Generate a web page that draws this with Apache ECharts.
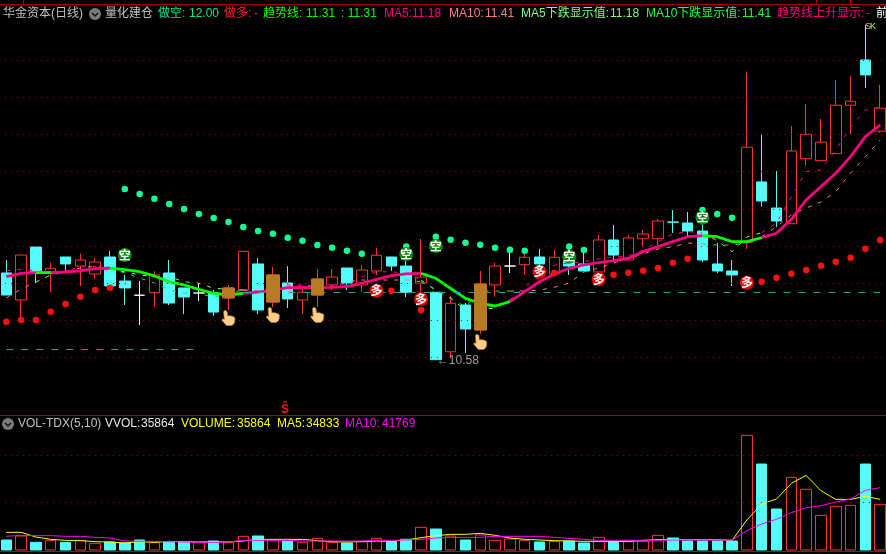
<!DOCTYPE html>
<html><head><meta charset="utf-8">
<style>html,body{margin:0;padding:0;background:#000;overflow:hidden}#c{width:886px;height:554px}</style>
<script src="https://cdn.jsdelivr.net/npm/echarts@6/dist/echarts.min.js"></script>
</head><body><div id="c"></div>
<script>
const openPrices=[11.281,11.063,11.491,11.283,11.41,11.337,11.273,11.41,11.216,11.101,11.122,11.281,11.16,11.119,11.119,11.079,11.143,11.354,11.046,11.2,11.063,11.103,11.184,11.321,11.184,11.297,11.41,11.337,11.198,11.125,10.644,11.022,10.82,11.184,11.337,11.348,11.41,11.275,11.426,11.354,11.289,11.548,11.386,11.558,11.558,11.693,11.685,11.62,11.354,11.297,11.529,12.017,11.806,11.679,12.205,12.189,12.246,12.637,13.003,12.427];
const closePrices=[11.103,11.426,11.281,11.319,11.354,11.386,11.37,11.176,11.16,11.101,11.265,11.038,11.087,11.119,10.965,11.16,11.456,10.982,11.265,11.071,11.125,11.232,11.248,11.2,11.305,11.424,11.337,11.125,11.248,10.58,11.036,10.828,11.192,11.337,11.337,11.408,11.354,11.408,11.337,11.297,11.548,11.426,11.564,11.596,11.701,11.692,11.62,11.386,11.297,11.265,12.297,11.863,11.701,12.267,12.402,12.338,12.637,12.669,12.882,12.613];
const highPrices=[11.386,11.426,11.491,11.364,11.41,11.437,11.405,11.459,11.265,11.216,11.295,11.386,11.16,11.198,11.143,11.184,11.456,11.402,11.329,11.337,11.16,11.313,11.313,11.321,11.346,11.483,11.41,11.426,11.556,11.125,11.095,11.038,11.297,11.362,11.451,11.434,11.475,11.467,11.483,11.451,11.588,11.669,11.588,11.629,11.717,11.79,11.774,11.734,11.523,11.386,12.909,12.405,12.106,12.469,12.647,12.526,12.841,12.874,13.286,12.801];
const lowPrices=[11.103,10.917,11.2,11.127,11.291,11.176,11.232,11.176,11.022,10.86,11.006,11.022,10.949,11.054,10.933,10.982,11.135,10.949,11.006,10.998,10.949,11.006,11.143,11.143,11.127,11.265,11.297,11.087,11.127,10.58,10.594,10.634,10.788,11.089,11.281,11.265,11.305,11.248,11.265,11.297,11.289,11.386,11.386,11.494,11.483,11.604,11.572,11.37,11.281,11.176,11.475,11.817,11.653,11.677,12.148,12.186,12.243,12.405,12.777,12.413];
const trendLine=[11.251,11.278,11.283,11.283,11.289,11.299,11.316,11.321,11.308,11.291,11.257,11.21,11.184,11.149,11.117,11.103,11.117,11.127,11.143,11.162,11.165,11.162,11.165,11.17,11.198,11.23,11.259,11.273,11.278,11.238,11.157,11.076,11.036,11.014,11.049,11.13,11.21,11.273,11.319,11.346,11.364,11.38,11.4,11.453,11.494,11.534,11.574,11.582,11.574,11.534,11.534,11.566,11.602,11.715,11.871,11.979,12.087,12.221,12.383,12.478];
const ma5Line=[11.299,11.311,11.297,11.289,11.289,11.337,11.332,11.299,11.291,11.265,11.251,11.251,11.21,11.198,11.157,11.149,11.143,11.138,11.165,11.184,11.184,11.17,11.184,11.184,11.251,11.291,11.291,11.278,11.224,11.143,11.076,10.982,10.995,10.995,11.063,11.17,11.251,11.346,11.362,11.372,11.394,11.41,11.418,11.467,11.534,11.596,11.615,11.604,11.542,11.453,11.572,11.607,11.685,11.895,12.1,12.114,12.275,12.461,12.599,12.623];
const ma10Line=[11.079,11.151,11.208,11.265,11.289,11.321,11.337,11.313,11.283,11.24,11.2,11.143,11.119,11.119,11.081,11.119,11.143,11.135,11.13,11.13,11.184,11.165,11.165,11.21,11.224,11.224,11.224,11.224,11.21,11.143,11.079,11.008,11.138,11.135,11.135,11.135,11.143,11.165,11.2,11.289,11.321,11.362,11.402,11.434,11.475,11.494,11.523,11.515,11.507,11.507,11.523,11.574,11.655,11.75,11.806,11.855,11.938,12.089,12.221,12.356];
const fallingSegments=[[2,3],[7,16],[28,34],[47,51]];
const _=null;
const shortStops=[_,_,_,_,_,_,_,_,11.96,11.92,11.88,11.839,11.798,11.758,11.725,11.693,11.653,11.62,11.599,11.566,11.542,11.507,11.485,11.461,11.437,_,_,11.494,_,11.574,11.55,11.526,11.51,11.485,11.469,11.461,_,_,11.494,11.467,_,_,_,_,_,_,_,11.79,11.758,11.728,_,_,_,_,_,_,_,_,_,_];
const longStops=[10.887,10.901,10.901,10.968,11.03,11.089,11.143,11.162,_,_,_,_,_,_,_,_,_,_,_,_,_,_,_,_,_,_,11.138,_,10.982,_,_,_,_,_,_,_,_,11.281,_,_,_,11.267,11.283,11.299,11.321,11.364,11.396,_,_,_,_,11.21,11.243,11.275,11.305,11.34,11.372,11.405,11.477,11.548];
const longSignals=[[25,11.138],[28,11.071],[36,11.291],[40,11.232],[50,11.202]];
const shortSignals=[[8,11.426],[27,11.434],[29,11.499],[38,11.413],[47,11.728]];
const handSignals=[[15,10.917],[18,10.941],[21,10.941],[32,10.723]];
const goldCandles=[15,18,21,32];
const whiteDoji=[9,13,34];
const priceGrid=[10.6,10.9,11.2,11.5,11.8,12.1,12.4,12.7,13.0];
const volumes=[50500,70700,38700,48800,38700,48800,33700,40400,35864,50500,37000,40400,40400,37000,45450,37000,69000,70700,48800,45450,37000,59000,37000,35350,42000,59000,42000,54000,114500,106000,70700,50500,75750,48800,55500,48800,40400,43700,45450,35350,64000,43700,48800,43700,74000,60600,45450,45450,45450,45450,579000,434300,207000,367000,306500,175000,220500,225500,434300,230500];
const volumeUp=[0,1,0,1,0,1,1,0,0,0,1,0,0,1,0,1,1,0,1,0,1,1,1,0,1,1,0,0,1,0,1,0,1,1,1,1,0,1,0,0,1,0,1,1,1,0,0,0,0,0,1,0,0,1,1,1,1,1,0,1];
const volMa5=[89200,89200,65600,53900,48800,47100,42100,40400,34833,42100,38700,43800,42100,40400,42100,40400,45400,53900,53900,53900,53900,47100,42100,40400,42100,45400,43800,50500,62300,72400,79100,79100,84200,74100,60600,53900,50500,47100,45400,43800,43800,43800,42100,48800,52200,52200,52200,52200,52200,48800,151500,232300,257500,336600,377000,299600,255800,255800,271000,255800];
const volMa10=[69000,74100,72400,72400,69000,69000,64000,60600,45400,43800,43800,42100,40400,38700,38700,40400,48800,48800,48800,48800,45400,45400,45400,45400,45400,48800,48800,50500,53900,60600,64000,64000,64000,69000,69000,69000,69000,64000,58900,53900,48800,48800,48800,48800,48800,50500,50500,50500,50500,50500,97600,131300,154900,188500,213800,223900,242400,257500,301300,314800];
const volGrid=[240000,480000];
const categories=openPrices.map((v,i)=>String(i));

const RED='#FF3232',CYAN='#54FCFC',GOLD='#B87A22',DOT='#B00000',BORDER='#B00000',TEAL='#3A9A9A';
const isFalling=i=>fallingSegments.some(s=>i>=s[0]&&i<=s[1]);
const falling=a=>a.map((v,i)=>isFalling(i)?v:null);
const rising=a=>a.map((v,i)=>{
  const f=isFalling(i),atEnd=fallingSegments.some(s=>i===s[0]||i===s[1]);
  return (!f||atEnd)?v:null;
});
const candleData=openPrices.map((o,i)=>{
  const item={value:[o,closePrices[i],lowPrices[i],highPrices[i]]};
  if(whiteDoji.includes(i))item.itemStyle={color:'#fff',color0:'#fff',borderColor:'#fff',borderColor0:'#fff'};
  return item;
});
const goldData=openPrices.map((o,i)=>{
  if(!goldCandles.includes(i))return ['-','-','-','-'];
  const lo=Math.min(o,closePrices[i]),hi=Math.max(o,closePrices[i]);
  return [lo,hi,lo,hi];
});
const volBars=volumes.map((v,i)=>volumeUp[i]?[0,v,0,v]:[v,0,0,v]);
const lineS=(name,data,color,width,type,z)=>({name,type:'line',data,xAxisIndex:0,yAxisIndex:0,symbol:'none',silent:true,z,
  lineStyle:{color,width,type},connectNulls:false});
const volLine=(name,data,color)=>({name,type:'line',data,xAxisIndex:1,yAxisIndex:1,symbol:'none',silent:true,z:4,lineStyle:{color,width:1}});
const handPath='path://M4 0 C5.5 0 6.5 1 6.6 2.5 L7 8.5 C9 8 11 8.2 12.5 9 C14.5 9.5 16 10.5 16.3 12.5 L16 18 C15.5 21 14 23 12 24 L6 24 C4.5 22.5 3 20 1 17 C-0.5 15 0 13 2 13.5 L3 14.5 L2.2 2.5 C2.2 1 3 0 4 0 Z';
const signal=(name,data,color,text)=>({name,type:'scatter',data,xAxisIndex:0,yAxisIndex:0,symbol:'circle',symbolSize:14,z:8,silent:true,
  itemStyle:{color,opacity:1},label:{show:true,position:'inside',formatter:text,color:'#fff',fontSize:12,fontWeight:'bold',fontFamily:'Noto Sans CJK SC'}});
const T=(text,x,y,color)=>({type:'text',x,y,silent:true,z:20,style:{text,fill:color,font:'12px "Liberation Sans","Noto Sans CJK SC"',textVerticalAlign:'middle'}});
const R=(x,y,width,height,color)=>({type:'rect',silent:true,z:20,shape:{x,y,width,height},style:{fill:color}});
const Chev=(x,y)=>[{type:'circle',silent:true,z:20,shape:{cx:x,cy:y,r:6},style:{fill:'#7a7a7a'}},
  {type:'polyline',silent:true,z:21,shape:{points:[[x-3,y-1],[x,y+2],[x+3,y-1]]},style:{stroke:'#111',lineWidth:1.5,fill:'none'}}];
const G='#C0C0C0';
const chart=echarts.init(document.getElementById('c'),null,{renderer:'canvas'});
chart.setOption({
  animation:false,backgroundColor:'#000',
  grid:[{left:-1.1,width:888.7,top:23.2,height:383.5,outerBoundsMode:'none'},{left:-1.1,width:888.7,top:415,height:135,outerBoundsMode:'none'}],
  xAxis:[{type:'category',data:categories,gridIndex:0,show:false},{type:'category',data:categories,gridIndex:1,show:false}],
  yAxis:[{type:'value',gridIndex:0,min:10.2,max:13.3,show:false,splitLine:{show:false}},
         {type:'value',gridIndex:1,min:0,max:682000,show:false,splitLine:{show:false}}],
  series:[
    {name:'grid',type:'line',data:[],xAxisIndex:0,yAxisIndex:0,z:1,silent:true,
      markLine:{silent:true,symbol:['none','none'],label:{show:false},animation:false,
        data:priceGrid.map(p=>({yAxis:p,lineStyle:{color:DOT,type:[1,5],width:1}})).concat([
          [{coord:[0,10.666],lineStyle:{color:TEAL,type:[7,8],width:1}},{coord:['13',10.666]}],
          [{coord:[15,11.123],lineStyle:{color:TEAL,type:[7,8],width:1}},{coord:['59',11.123]}]
        ])}},
    {name:'K',type:'candlestick',data:candleData,xAxisIndex:0,yAxisIndex:0,barWidth:11,silent:true,z:2,
      itemStyle:{color:'transparent',color0:CYAN,borderColor:RED,borderColor0:CYAN,borderWidth:1}},
    lineS('MA5up',rising(ma5Line),'#FF0080',1,[4,7],3),
    lineS('MA10up',rising(ma10Line),'#FF8080',1,[4,7],3),
    lineS('MA5down',falling(ma5Line),'#80FF80',1,[4,7],3),
    lineS('MA10down',falling(ma10Line),'#20E040',1,[4,7],3),
    lineS('trendUp',rising(trendLine),'#FF0080',2.8,'solid',4),
    lineS('trendDown',falling(trendLine),'#00FF00',2.8,'solid',4),
    {name:'gold',type:'candlestick',data:goldData,xAxisIndex:0,yAxisIndex:0,barWidth:13,silent:true,z:5,
      itemStyle:{color:GOLD,color0:GOLD,borderColor:GOLD,borderColor0:GOLD,borderWidth:1}},
    {name:'shortStops',type:'scatter',data:shortStops,xAxisIndex:0,yAxisIndex:0,symbol:'circle',symbolSize:6.5,z:6,silent:true,itemStyle:{color:'#10FF90',opacity:1}},
    {name:'longStops',type:'scatter',data:longStops,xAxisIndex:0,yAxisIndex:0,symbol:'circle',symbolSize:6.5,z:6,silent:true,itemStyle:{color:'#FF1010',opacity:1}},
    signal('long',longSignals,'#F00000','多'),
    signal('short',shortSignals,'#058A10','空'),
    {name:'hands',type:'scatter',data:handSignals,xAxisIndex:0,yAxisIndex:0,symbol:handPath,symbolSize:[13,15],z:7,silent:true,
      itemStyle:{color:'#FFCF8A',borderColor:'#B87A22',borderWidth:0.7,opacity:1}},
    {name:'low',type:'scatter',data:[[29,10.58]],xAxisIndex:0,yAxisIndex:0,symbolSize:0,z:9,silent:true,
      label:{show:true,position:'bottom',distance:-5,offset:[22,0],formatter:'←10.58',color:G,fontSize:12,fontFamily:'Liberation Sans'}},
    {name:'volgrid',type:'line',data:[],xAxisIndex:1,yAxisIndex:1,z:1,silent:true,
      markLine:{silent:true,symbol:['none','none'],label:{show:false},animation:false,
        data:volGrid.map(v=>({yAxis:v,lineStyle:{color:DOT,type:[1,5],width:1}}))}},
    {name:'VOL',type:'candlestick',data:volBars,xAxisIndex:1,yAxisIndex:1,barWidth:11,silent:true,z:2,
      itemStyle:{color:'transparent',color0:CYAN,borderColor:RED,borderColor0:CYAN,borderWidth:1}},
    volLine('VMA5',volMa5,'#FFFF00'),
    volLine('VMA10',volMa10,'#FF00FF')
  ],
  graphic:{elements:[
    R(0,4,886,1,BORDER),R(23,0,1,4,BORDER),R(816,0,1,4,BORDER),R(850,0,1,4,BORDER),
    R(0,415,886,1,BORDER),R(0,551,886,1,BORDER),
    T('华金资本(日线)',3,14,G),...Chev(95,14),T('量化建仓',105,14,G),
    T('做空:',158,14,'#00E68A'),T('12.00',189,14,'#00E68A'),
    T('做多:',224,14,'#FF2020'),T('-',254,14,'#FF2020'),
    T('趋势线:',263,14,'#00FF00'),T('11.31',306,14,'#00FF00'),T(': 11.31',341,14,'#00FF00'),
    T('MA5:',384,14,'#FF0080'),T('11.18',412,14,'#FF0080'),
    T('MA10:',449,14,'#FF8080'),T('11.41',485,14,'#FF8080'),
    T('MA5下跌显示值:',521,14,'#80FF80'),T('11.18',610,14,'#80FF80'),
    T('MA10下跌显示值:',646,14,'#20FF40'),T('11.41',742,14,'#20FF40'),
    T('趋势线上升显示:',777,14,'#FF0080'),T('-',866,14,'#FF0080'),
    T('前',876,14,'#FFFFFF'),
    ...Chev(8,424),T('VOL-TDX(5,10)',18,424,G),
    T('VVOL:',105,424,'#E8E8E8'),T('35864',141,424,'#E8E8E8'),
    T('VOLUME:',181,424,'#FFFF00'),T('35864',237,424,'#FFFF00'),
    T('MA5:',277,424,'#FFFF00'),T('34833',306,424,'#FFFF00'),
    T('MA10:',345,424,'#FF00FF'),T('41769',382,424,'#FF00FF'),
    {type:'text',x:281,y:410,silent:true,z:20,style:{text:'Ŝ',fill:'#FF1010',font:'bold 12px "Liberation Sans"',textVerticalAlign:'middle'}},
    {type:'text',x:865,y:27,silent:true,z:20,style:{text:'S',fill:G,font:'9px "Liberation Sans"',textVerticalAlign:'middle'}},
    {type:'text',x:870,y:27,silent:true,z:20,style:{text:'K',fill:'#B0FF40',font:'9px "Liberation Sans"',textVerticalAlign:'middle'}}
  ]}
});
</script></body></html>
